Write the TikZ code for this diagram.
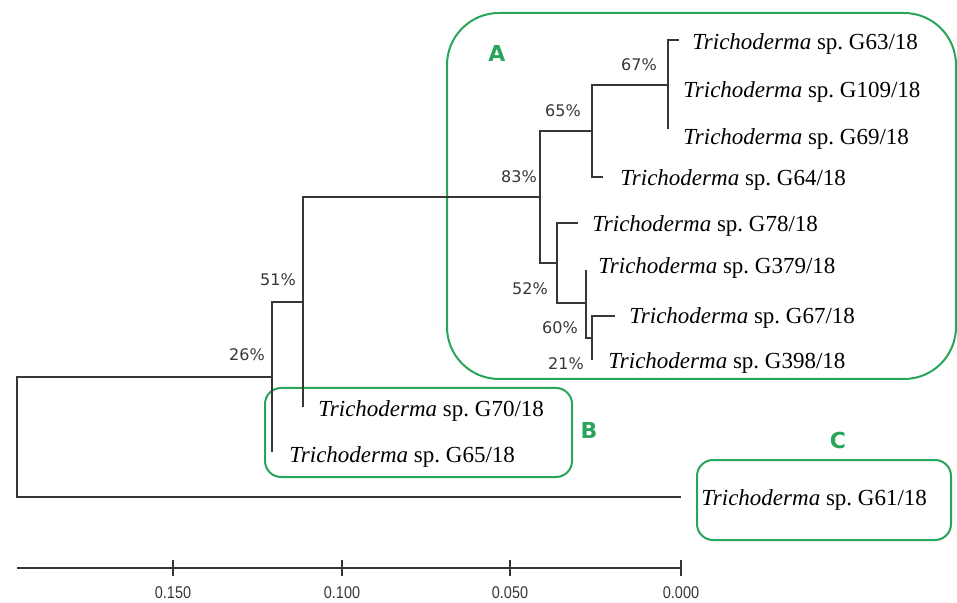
\documentclass[tikz,border=0pt]{standalone}
\usepackage{fontspec}
\setmainfont{Liberation Serif}
\newfontfamily\pctfont{DejaVu Sans}
\newfontfamily\axisfont[FakeStretch=0.85]{Liberation Sans}
\usetikzlibrary{positioning}
\frenchspacing

\definecolor{grpgreen}{RGB}{40,165,90}
\definecolor{treegray}{RGB}{55,55,55}

\tikzset{
    branch/.style={draw=treegray, line width=0.75pt},
    grpbox/.style={draw=grpgreen, line width=1pt},
    leaf/.style={anchor=base west, inner sep=0pt, font=\fontsize{11.5}{13}\selectfont},
    support/.style={inner sep=0pt, text=treegray, font=\pctfont\fontsize{8}{9}\selectfont},
    grplabel/.style={inner sep=0pt, text=grpgreen, font=\pctfont\bfseries\fontsize{11}{12}\selectfont},
    ticklabel/.style={inner sep=0pt, text=treegray, font=\axisfont\fontsize{8.5}{9}\selectfont}
}

\begin{document}
\begin{tikzpicture}[x=0.5pt, y=-0.5pt]
    \useasboundingbox (0,0) rectangle (957,603);

    % Groups
    \draw[grpbox, rounded corners=26pt] (447,13) rectangle (956,379);
    \draw[grpbox, rounded corners=8pt] (265,388) rectangle (572,477);
    \draw[grpbox, rounded corners=8pt] (697,460) rectangle (951,540);
    \node[grplabel] (labA) at (497,53) {A};
    \node[grplabel] (labB) at (589,430) {B};
    \node[grplabel] (labC) at (838,440) {C};

    % Inner nodes
    \coordinate (root) at (17,437);
    \coordinate (n26) at (272,377);
    \coordinate (n51) at (303,302);
    \coordinate (n83) at (540,197);
    \coordinate (n65) at (592,131);
    \coordinate (n67) at (668,85);
    \coordinate (n52) at (557,263);
    \coordinate (n60) at (586,303);
    \coordinate (n21) at (592,338);

    % Tips
    \coordinate (t63) at (679,40);
    \coordinate (t109) at (668,85);
    \coordinate (t69) at (668,129);
    \coordinate (t64) at (603,177);
    \coordinate (t78) at (578,223);
    \coordinate (t379) at (586,270);
    \coordinate (t67) at (615,316);
    \coordinate (t398) at (592,360);
    \coordinate (t70) at (303,407);
    \coordinate (t65) at (272,452);
    \coordinate (t61) at (681,497);

    % Branches
    \draw[branch] (root) |- (n26);
    \draw[branch] (root) |- (t61);
    \draw[branch] (n26) |- (n51);
    \draw[branch] (n26) |- (t65);
    \draw[branch] (n51) |- (n83);
    \draw[branch] (n51) |- (t70);
    \draw[branch] (n83) |- (n65);
    \draw[branch] (n83) |- (n52);
    \draw[branch] (n65) |- (n67);
    \draw[branch] (n65) |- (t64);
    \draw[branch] (n67) |- (t63);
    \draw[branch] (n67) |- (t69);
    \draw[branch] (n52) |- (t78);
    \draw[branch] (n52) |- (n60);
    \draw[branch] (n60) |- (t379);
    \draw[branch] (n60) |- (n21);
    \draw[branch] (n21) |- (t67);
    \draw[branch] (n21) |- (t398);

    % Leaves
    \node[leaf] (g63) at (692,50) {\textit{Trichoderma} sp. G63/18};
    \node[leaf] (g109) at (683,98) {\textit{Trichoderma} sp. G109/18};
    \node[leaf] (g69) at (683,145) {\textit{Trichoderma} sp. G69/18};
    \node[leaf] (g64) at (620,186) {\textit{Trichoderma} sp. G64/18};
    \node[leaf] (g78) at (592,232) {\textit{Trichoderma} sp. G78/18};
    \node[leaf] (g379) at (598,274) {\textit{Trichoderma} sp. G379/18};
    \node[leaf] (g67) at (629,324) {\textit{Trichoderma} sp. G67/18};
    \node[leaf] (g398) at (608,369) {\textit{Trichoderma} sp. G398/18};
    \node[leaf] (g70) at (318,416) {\textit{Trichoderma} sp. G70/18};
    \node[leaf] (g65) at (289,462) {\textit{Trichoderma} sp. G65/18};
    \node[leaf] (g61) at (701,505) {\textit{Trichoderma} sp. G61/18};

    % Support values
    \node[support] (s67) at (639,65) {67\%};
    \node[support] (s65) at (563,111) {65\%};
    \node[support] (s83) at (519,177) {83\%};
    \node[support] (s52) at (530,289) {52\%};
    \node[support] (s60) at (560,328) {60\%};
    \node[support] (s21) at (566,364) {21\%};
    \node[support] (s51) at (278,280) {51\%};
    \node[support] (s26) at (247,355) {26\%};

    % Scale bar
    \coordinate (ax0) at (17,568);
    \coordinate (ax1) at (681,568);
    \draw[branch] (ax0) -- (ax1);
    \foreach \xx/\val in {173/0.150, 342/0.100, 510/0.050, 681/0.000} {
        \draw[branch] (\xx,560) -- (\xx,576);
        \node[ticklabel] at (\xx,593) {\val};
    }
\end{tikzpicture}
\end{document}
